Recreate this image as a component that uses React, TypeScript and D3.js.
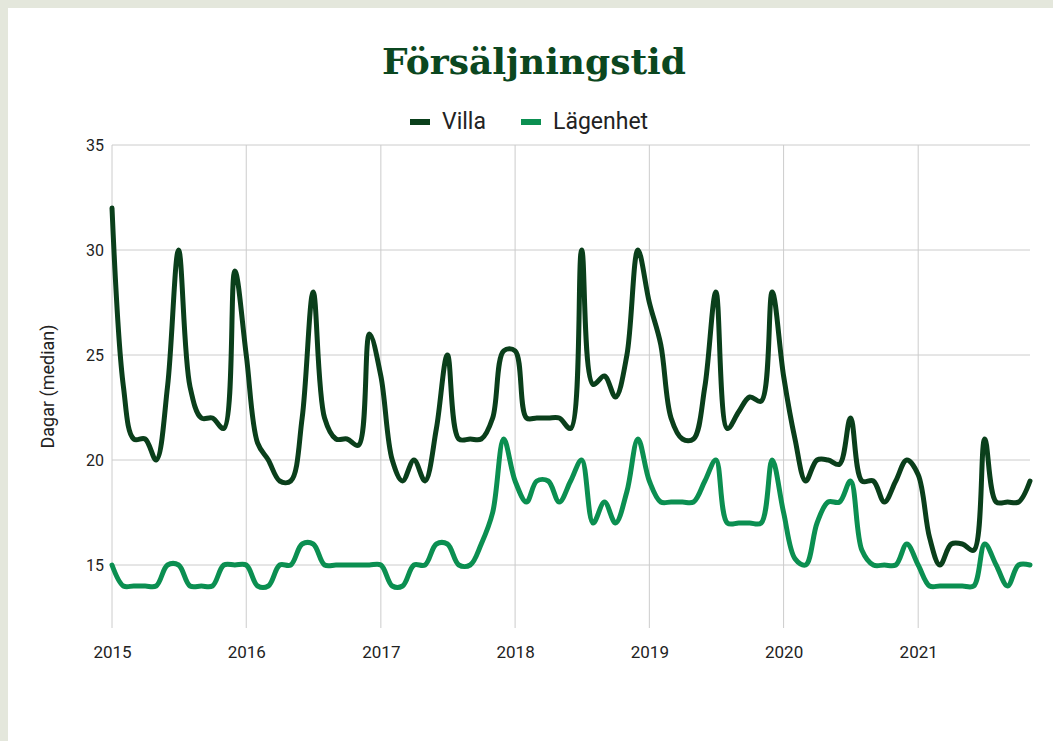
import React, { useEffect, useRef } from "react";
import * as d3 from "d3";

// monthly medians, Jan 2015 – Nov 2021
const villa = [
  32, 23.5, 21, 21, 20, 23.5, 30, 23.5, 22, 22, 21.5, 29,
  25, 20.8, 20, 19, 19, 22, 28, 22, 21, 21, 20.7, 26,
  24, 20, 19, 20, 19, 21.5, 25, 21, 21, 21, 22, 25.2,
  25.2, 22, 22, 22, 22, 21.5, 30, 23.6, 24, 23, 25, 30,
  27.5, 25.5, 22, 21, 21, 23.5, 28, 21.5, 22.3, 23, 22.8, 28,
  24, 21, 19, 20, 20, 19.8, 22, 19, 19, 18, 19, 20,
  19.3, 16.3, 15, 16, 16, 15.7, 21, 18, 18, 18, 19,
];
const lagenhet = [
  15, 14, 14, 14, 14, 15, 15, 14, 14, 14, 15, 15,
  15, 14, 14, 15, 15, 16, 16, 15, 15, 15, 15, 15,
  15, 14, 14, 15, 15, 16, 16, 15, 15, 16, 17.5, 21,
  19, 18, 19, 19, 18, 19, 20, 17, 18, 17, 18.5, 21,
  19, 18, 18, 18, 18, 19, 20, 17, 17, 17, 17, 20,
  17.5, 15.3, 15, 17, 18, 18, 19, 15.7, 15, 15, 15, 16,
  15, 14, 14, 14, 14, 14, 16, 15, 14, 15, 15,
];
const yTicks = [15, 20, 25, 30, 35];
const years = [2015, 2016, 2017, 2018, 2019, 2020, 2021];
const seriesNames = ["Villa", "Lägenhet"];
const colors = ["#0a3f1b", "#0b8f51"];

function App() {
  const ref = useRef<SVGSVGElement>(null);

  useEffect(() => {
    const W = 1053;
    const H = 741;
    const svg = d3.select(ref.current).attr("width", W).attr("height", H);
    svg.selectAll("*").remove();

    const months = d3.timeMonth.range(new Date(2015, 0, 1), new Date(2021, 11, 1));
    const x = d3
      .scaleTime()
      .domain([months[0], months[months.length - 1]])
      .range([112, 1030]);
    const y = d3.scaleLinear().domain([12, 35]).range([628, 145]);

    // page + card
    svg.append("rect").attr("width", W).attr("height", H).attr("fill", "#e4e7dc");
    svg.append("rect").attr("x", 8).attr("y", 8).attr("width", W - 8).attr("height", H - 8).attr("fill", "#fff");

    // title
    svg.append("text")
      .attr("x", 534)
      .attr("y", 74)
      .attr("text-anchor", "middle")
      .style("font-family", "'DejaVu Serif', serif")
      .style("font-weight", "bold")
      .style("font-size", "36px")
      .attr("fill", "#0b4720")
      .text("Försäljningstid");

    // legend
    const legendX = [410, 521];
    seriesNames.forEach((name, i) => {
      svg.append("rect")
        .attr("x", legendX[i])
        .attr("y", 119)
        .attr("width", 20)
        .attr("height", 6)
        .attr("fill", colors[i]);
      svg.append("text")
        .attr("x", legendX[i] + 32)
        .attr("y", 129)
        .style("font-family", "Roboto, sans-serif")
        .style("font-size", "23px")
        .attr("fill", "#222")
        .text(name);
    });

    // grid
    const grid = svg.append("g").attr("stroke", "#cccccc").attr("stroke-width", 1);
    grid.selectAll("line.h")
      .data(yTicks)
      .join("line")
      .attr("class", "h")
      .attr("x1", x.range()[0])
      .attr("x2", x.range()[1])
      .attr("y1", d => y(d))
      .attr("y2", d => y(d));
    grid.selectAll("line.v")
      .data(years)
      .join("line")
      .attr("class", "v")
      .attr("x1", d => x(new Date(d, 0, 1)))
      .attr("x2", d => x(new Date(d, 0, 1)))
      .attr("y1", y(35))
      .attr("y2", y(12));

    // axes labels
    const xAxis = d3
      .axisBottom(x)
      .tickValues(years.map(d => new Date(d, 0, 1)))
      .tickFormat(d => d3.timeFormat("%Y")(d as Date))
      .tickSize(0)
      .tickPadding(18);
    const gx = svg.append("g").attr("transform", `translate(0, ${y(12)})`).call(xAxis);
    gx.select(".domain").remove();
    gx.selectAll("text").style("font-family", "Roboto, sans-serif").style("font-size", "17px").attr("fill", "#222");

    const yAxis = d3.axisLeft(y).tickValues(yTicks).tickSize(0).tickPadding(8);
    const gy = svg.append("g").attr("transform", `translate(${x.range()[0]}, 0)`).call(yAxis);
    gy.select(".domain").remove();
    gy.selectAll("text").style("font-family", "Roboto, sans-serif").style("font-size", "16px").attr("fill", "#222");

    svg.append("text")
      .attr("transform", `translate(54, ${y(23.5)}) rotate(-90)`)
      .attr("text-anchor", "middle")
      .style("font-family", "Roboto, sans-serif")
      .style("font-size", "18px")
      .attr("fill", "#222")
      .text("Dagar (median)");

    // lines
    const line = d3
      .line<number>()
      .x((d, i) => x(months[i]))
      .y(d => y(d))
      .curve(d3.curveCatmullRom.alpha(0.5));

    svg.selectAll(".series")
      .data([villa, lagenhet])
      .join("path")
      .attr("class", "series")
      .attr("d", d => line(d))
      .attr("fill", "none")
      .attr("stroke", (d, i) => colors[i])
      .attr("stroke-width", 5)
      .attr("stroke-linejoin", "round")
      .attr("stroke-linecap", "round");
  }, []);

  return (
    <div style={{ position: "fixed", left: 0, top: 0 }}>
      <svg ref={ref} style={{ display: "block" }} />
    </div>
  );
}

export default App;
